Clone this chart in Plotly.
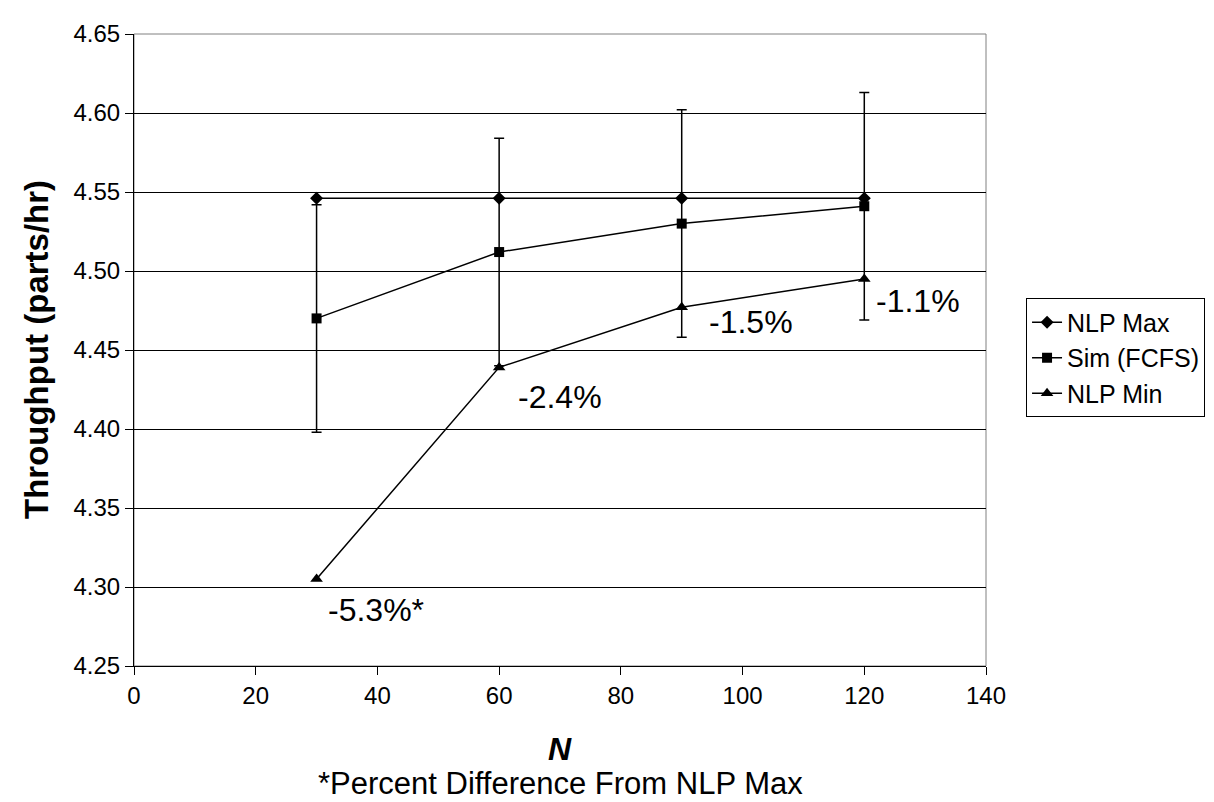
import plotly.graph_objects as go

N = [30, 60, 90, 120]
nlp_max = [4.546, 4.546, 4.546, 4.546]
sim_fcfs = [4.470, 4.512, 4.530, 4.541]
sim_err = [0.072, 0.072, 0.072, 0.072]
nlp_min = [4.305, 4.439, 4.477, 4.495]

pct_labels = ["-5.3%*", "-2.4%", "-1.5%", "-1.1%"]
pct_x = [39.8, 70.0, 101.4, 128.8]
pct_y = [4.2856, 4.420, 4.4675, 4.481]

FONT = "Arial, Liberation Sans, sans-serif"

fig = go.Figure()
fig.add_trace(go.Scatter(
    x=N, y=nlp_max, name="NLP Max", mode="lines+markers",
    line=dict(color="black", width=1.5),
    marker=dict(symbol="diamond", size=10, color="black"),
))
fig.add_trace(go.Scatter(
    x=N, y=sim_fcfs, name="Sim (FCFS)", mode="lines+markers",
    line=dict(color="black", width=1.5),
    marker=dict(symbol="square", size=10, color="black"),
    error_y=dict(type="data", array=sim_err, visible=True, color="black",
                 thickness=1.5, width=5),
))
fig.add_trace(go.Scatter(
    x=N, y=nlp_min, name="NLP Min", mode="lines+markers",
    line=dict(color="black", width=1.5),
    marker=dict(symbol="triangle-up", size=11, color="black"),
))

annotations = []
for t, ax_, ay_ in zip(pct_labels, pct_x, pct_y):
    annotations.append(dict(x=ax_, y=ay_, xref="x", yref="y", text=t,
                            showarrow=False, font=dict(family=FONT, size=32, color="black"),
                            xanchor="center", yanchor="middle"))
annotations += [
    dict(x=-0.115, y=0.5, xref="paper", yref="paper", text="<b>Throughput (parts/hr)</b>",
         textangle=-90, showarrow=False, xanchor="center", yanchor="middle",
         font=dict(family=FONT, size=33, color="black")),
    dict(x=0.5, y=-0.1317, xref="paper", yref="paper", text="<b><i>N</i></b>",
         showarrow=False, xanchor="center", yanchor="middle",
         font=dict(family=FONT, size=32, color="black")),
    dict(x=0.5, y=-0.1865, xref="paper", yref="paper", text="*Percent Difference From NLP Max",
         showarrow=False, xanchor="center", yanchor="middle",
         font=dict(family=FONT, size=31, color="black")),
]

fig.update_layout(
    width=1214, height=802,
    margin=dict(l=126, r=236, t=20, b=144),
    paper_bgcolor="white", plot_bgcolor="white",
    font=dict(family=FONT, size=24, color="black"),
    showlegend=True,
    legend=dict(x=1.047, y=0.5815, xanchor="left", yanchor="top",
                bordercolor="black", borderwidth=1, bgcolor="white",
                font=dict(family=FONT, size=25, color="black"),
                tracegroupgap=0, itemwidth=30),
    annotations=annotations,
    shapes=[dict(type="rect", xref="paper", yref="paper", x0=0, y0=0, x1=1, y1=1,
                 line=dict(color="#808080", width=1), layer="below")],
)
fig.update_xaxes(range=[0, 140], dtick=20, tick0=0, showgrid=False,
                 showline=True, linecolor="black", linewidth=1,
                 ticks="outside", ticklen=8, tickcolor="black", zeroline=False,
                 tickfont=dict(family=FONT, size=24, color="black"))
fig.update_yaxes(range=[4.25, 4.65], dtick=0.05, tick0=4.25, tickformat=".2f",
                 showgrid=True, gridcolor="black", gridwidth=1,
                 showline=True, linecolor="black", linewidth=1,
                 ticks="outside", ticklen=8, tickcolor="black", zeroline=False,
                 tickfont=dict(family=FONT, size=24, color="black"))

fig.write_html("out.html")
